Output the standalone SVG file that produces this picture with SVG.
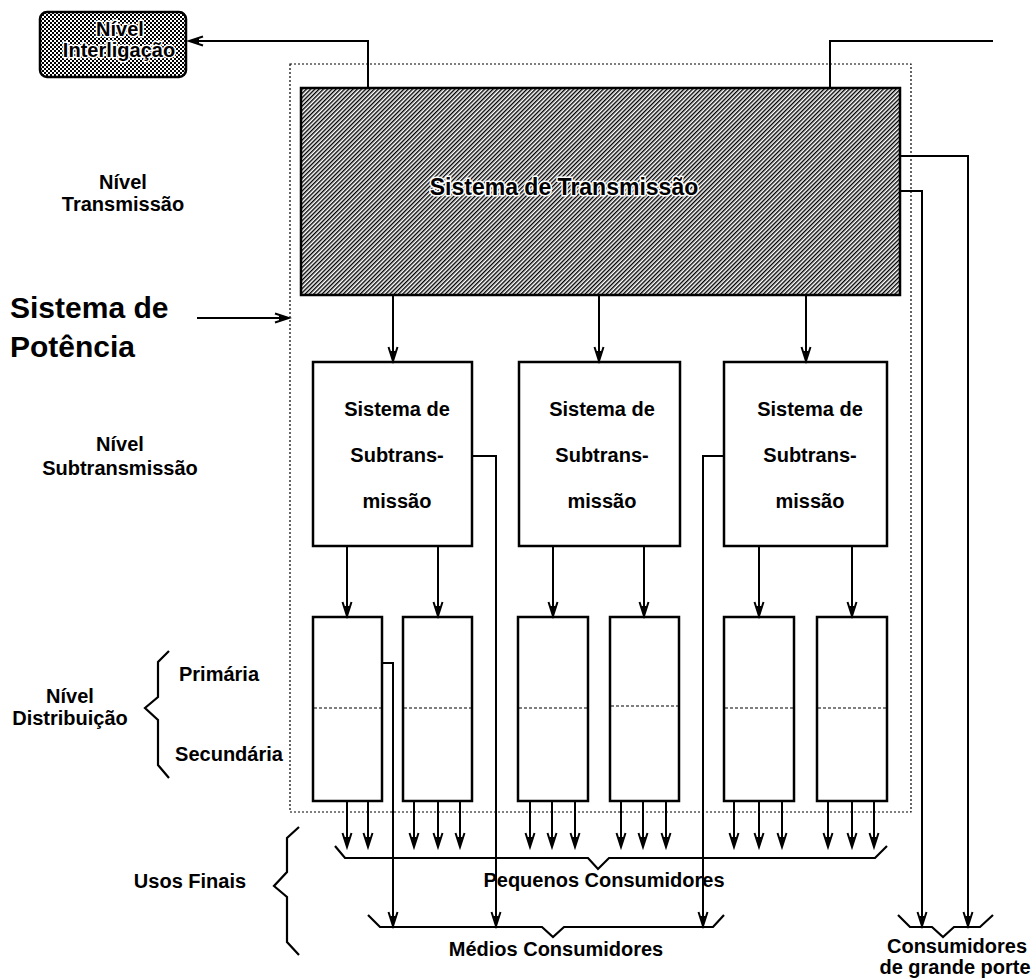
<svg xmlns="http://www.w3.org/2000/svg" width="1036" height="979" viewBox="0 0 1036 979">
<style>
text{font-family:"Liberation Sans",Arial,Helvetica,sans-serif;font-weight:bold;fill:#000;}
.lbl{font-size:20px;text-anchor:middle;}
.big{font-size:30px;text-anchor:start;}
.halo{paint-order:stroke;stroke:#fff;stroke-width:3px;stroke-linejoin:round;}
.box{fill:#fff;stroke:#000;stroke-width:2.5;}
.ln{fill:none;stroke:#000;stroke-width:2;}
.arr{fill:none;stroke:#000;stroke-width:2;marker-end:url(#ah);}
.brace{fill:none;stroke:#000;stroke-width:2.2;stroke-linejoin:miter;}
.mid{stroke:#000;stroke-width:1.2;stroke-dasharray:3 2;}
</style>
<defs>
<marker id="ah" markerUnits="userSpaceOnUse" markerWidth="20" markerHeight="14" viewBox="-16 -7 18 14" refX="0" refY="0" orient="auto">
<path d="M-14,-4.5 L0,0 L-14,4.5" fill="none" stroke="#000" stroke-width="2"/>
<path d="M-10,-2.5 L0,0 L-10,2.5 Z" fill="#000"/>
</marker>
<pattern id="hatch" patternUnits="userSpaceOnUse" width="3" height="3" patternTransform="rotate(45)">
<rect width="3" height="3" fill="#fff"/>
<rect width="1.4" height="3" fill="#000"/>
</pattern>
<pattern id="check" patternUnits="userSpaceOnUse" width="4" height="4">
<rect width="4" height="4" fill="#fff"/>
<rect width="2" height="2" fill="#000"/>
<rect x="2" y="2" width="2" height="2" fill="#000"/>
</pattern>
</defs>

<rect x="290" y="64" width="621" height="748" fill="none" stroke="#000" stroke-width="1.2" stroke-dasharray="2 2"/>

<g id="interligacao">
<rect x="40" y="12" width="146" height="65" rx="7" fill="url(#check)" stroke="#000" stroke-width="2.5"/>
<text class="lbl halo" x="120" y="36">Nível</text>
<text class="lbl halo" x="119" y="57">Interligação</text>
</g>

<g id="transmissao">
<rect x="301" y="88" width="599" height="207" fill="url(#hatch)" stroke="#000" stroke-width="2.5"/>
<text class="halo" x="564" y="195" style="font-size:23px;text-anchor:middle;">Sistema de Transmissão</text>
</g>

<g id="subtrans1">
<rect class="box" x="313" y="362" width="159" height="184"/>
<text class="lbl" x="397" y="416">Sistema de</text>
<text class="lbl" x="397" y="462">Subtrans-</text>
<text class="lbl" x="397" y="508">missão</text>
</g>
<g id="subtrans2">
<rect class="box" x="519" y="362" width="161" height="184"/>
<text class="lbl" x="602" y="416">Sistema de</text>
<text class="lbl" x="602" y="462">Subtrans-</text>
<text class="lbl" x="602" y="508">missão</text>
</g>
<g id="subtrans3">
<rect class="box" x="724" y="362" width="163" height="184"/>
<text class="lbl" x="810" y="416">Sistema de</text>
<text class="lbl" x="810" y="462">Subtrans-</text>
<text class="lbl" x="810" y="508">missão</text>
</g>

<g id="dist1"><rect class="box" x="313" y="617" width="69" height="184"/><line class="mid" x1="314" y1="708" x2="381" y2="708"/></g>
<g id="dist2"><rect class="box" x="403" y="617" width="69" height="184"/><line class="mid" x1="404" y1="708" x2="471" y2="708"/></g>
<g id="dist3"><rect class="box" x="518" y="617" width="70" height="184"/><line class="mid" x1="519" y1="708" x2="587" y2="708"/></g>
<g id="dist4"><rect class="box" x="610" y="617" width="69" height="184"/><line class="mid" x1="611" y1="706" x2="678" y2="706"/></g>
<g id="dist5"><rect class="box" x="724" y="617" width="70" height="184"/><line class="mid" x1="725" y1="708" x2="793" y2="708"/></g>
<g id="dist6"><rect class="box" x="817" y="617" width="70" height="184"/><line class="mid" x1="818" y1="708" x2="886" y2="708"/></g>

<g id="labels">
<text class="lbl" x="123" y="189">Nível</text>
<text class="lbl" x="123" y="211">Transmissão</text>
<text class="big" x="10" y="318">Sistema de</text>
<text class="big" x="10" y="357">Potência</text>
<text class="lbl" x="120" y="451">Nível</text>
<text class="lbl" x="120" y="475">Subtransmissão</text>
<text class="lbl" x="70" y="703">Nível</text>
<text class="lbl" x="70" y="725">Distribuição</text>
<text class="lbl" x="219" y="681">Primária</text>
<text class="lbl" x="229" y="761">Secundária</text>
<text class="lbl" x="190" y="888">Usos Finais</text>
<text class="lbl" x="604" y="887">Pequenos Consumidores</text>
<text class="lbl" x="556" y="956">Médios Consumidores</text>
<text class="lbl" x="957" y="953">Consumidores</text>
<text class="lbl" x="955" y="974">de grande porte</text>
</g>

<g id="connectors">
<polyline class="arr" points="368,88 368,41 189,41"/>
<polyline class="ln" points="830,88 830,41 993,41"/>
<line class="arr" x1="197" y1="318" x2="289" y2="318"/>
<line class="arr" x1="393" y1="296" x2="393" y2="361"/>
<line class="arr" x1="599" y1="296" x2="599" y2="361"/>
<line class="arr" x1="806" y1="296" x2="806" y2="361"/>
<line class="arr" x1="347" y1="547" x2="347" y2="616"/>
<line class="arr" x1="438" y1="547" x2="438" y2="616"/>
<line class="arr" x1="553" y1="547" x2="553" y2="616"/>
<line class="arr" x1="644" y1="547" x2="644" y2="616"/>
<line class="arr" x1="759" y1="547" x2="759" y2="616"/>
<line class="arr" x1="852" y1="547" x2="852" y2="616"/>
<polyline class="arr" points="901,156 968,156 968,926"/>
<polyline class="arr" points="901,191 922,191 922,926"/>
<polyline class="arr" points="472,456 496,456 496,926"/>
<polyline class="arr" points="724,456 703,456 703,926"/>
<polyline class="arr" points="382,663 393,663 393,926"/>
<line class="arr" x1="347" y1="802" x2="347" y2="847"/>
<line class="arr" x1="368" y1="802" x2="368" y2="847"/>
<line class="arr" x1="414" y1="802" x2="414" y2="847"/>
<line class="arr" x1="438" y1="802" x2="438" y2="847"/>
<line class="arr" x1="460" y1="802" x2="460" y2="847"/>
<line class="arr" x1="530" y1="802" x2="530" y2="847"/>
<line class="arr" x1="552" y1="802" x2="552" y2="847"/>
<line class="arr" x1="575" y1="802" x2="575" y2="847"/>
<line class="arr" x1="621" y1="802" x2="621" y2="847"/>
<line class="arr" x1="643" y1="802" x2="643" y2="847"/>
<line class="arr" x1="666" y1="802" x2="666" y2="847"/>
<line class="arr" x1="734" y1="802" x2="734" y2="847"/>
<line class="arr" x1="759" y1="802" x2="759" y2="847"/>
<line class="arr" x1="782" y1="802" x2="782" y2="847"/>
<line class="arr" x1="828" y1="802" x2="828" y2="847"/>
<line class="arr" x1="852" y1="802" x2="852" y2="847"/>
<line class="arr" x1="874" y1="802" x2="874" y2="847"/>
</g>

<g id="braces">
<polyline class="brace" points="169,651 158,662 158,697 145,708 158,720 158,765 169,778"/>
<polyline class="brace" points="299,827 287,838 287,872 274,886 287,897 287,942 299,955"/>
<polyline class="brace" points="335,846 345,858 588,858 598,869 609,858 875,858 887,846"/>
<polyline class="brace" points="368,915 380,927 542,927 553,937 564,927 713,927 724,915"/>
<polyline class="brace" points="898,915 910,927 932,927 943,937 954,927 980,927 993,915"/>
</g>
</svg>
